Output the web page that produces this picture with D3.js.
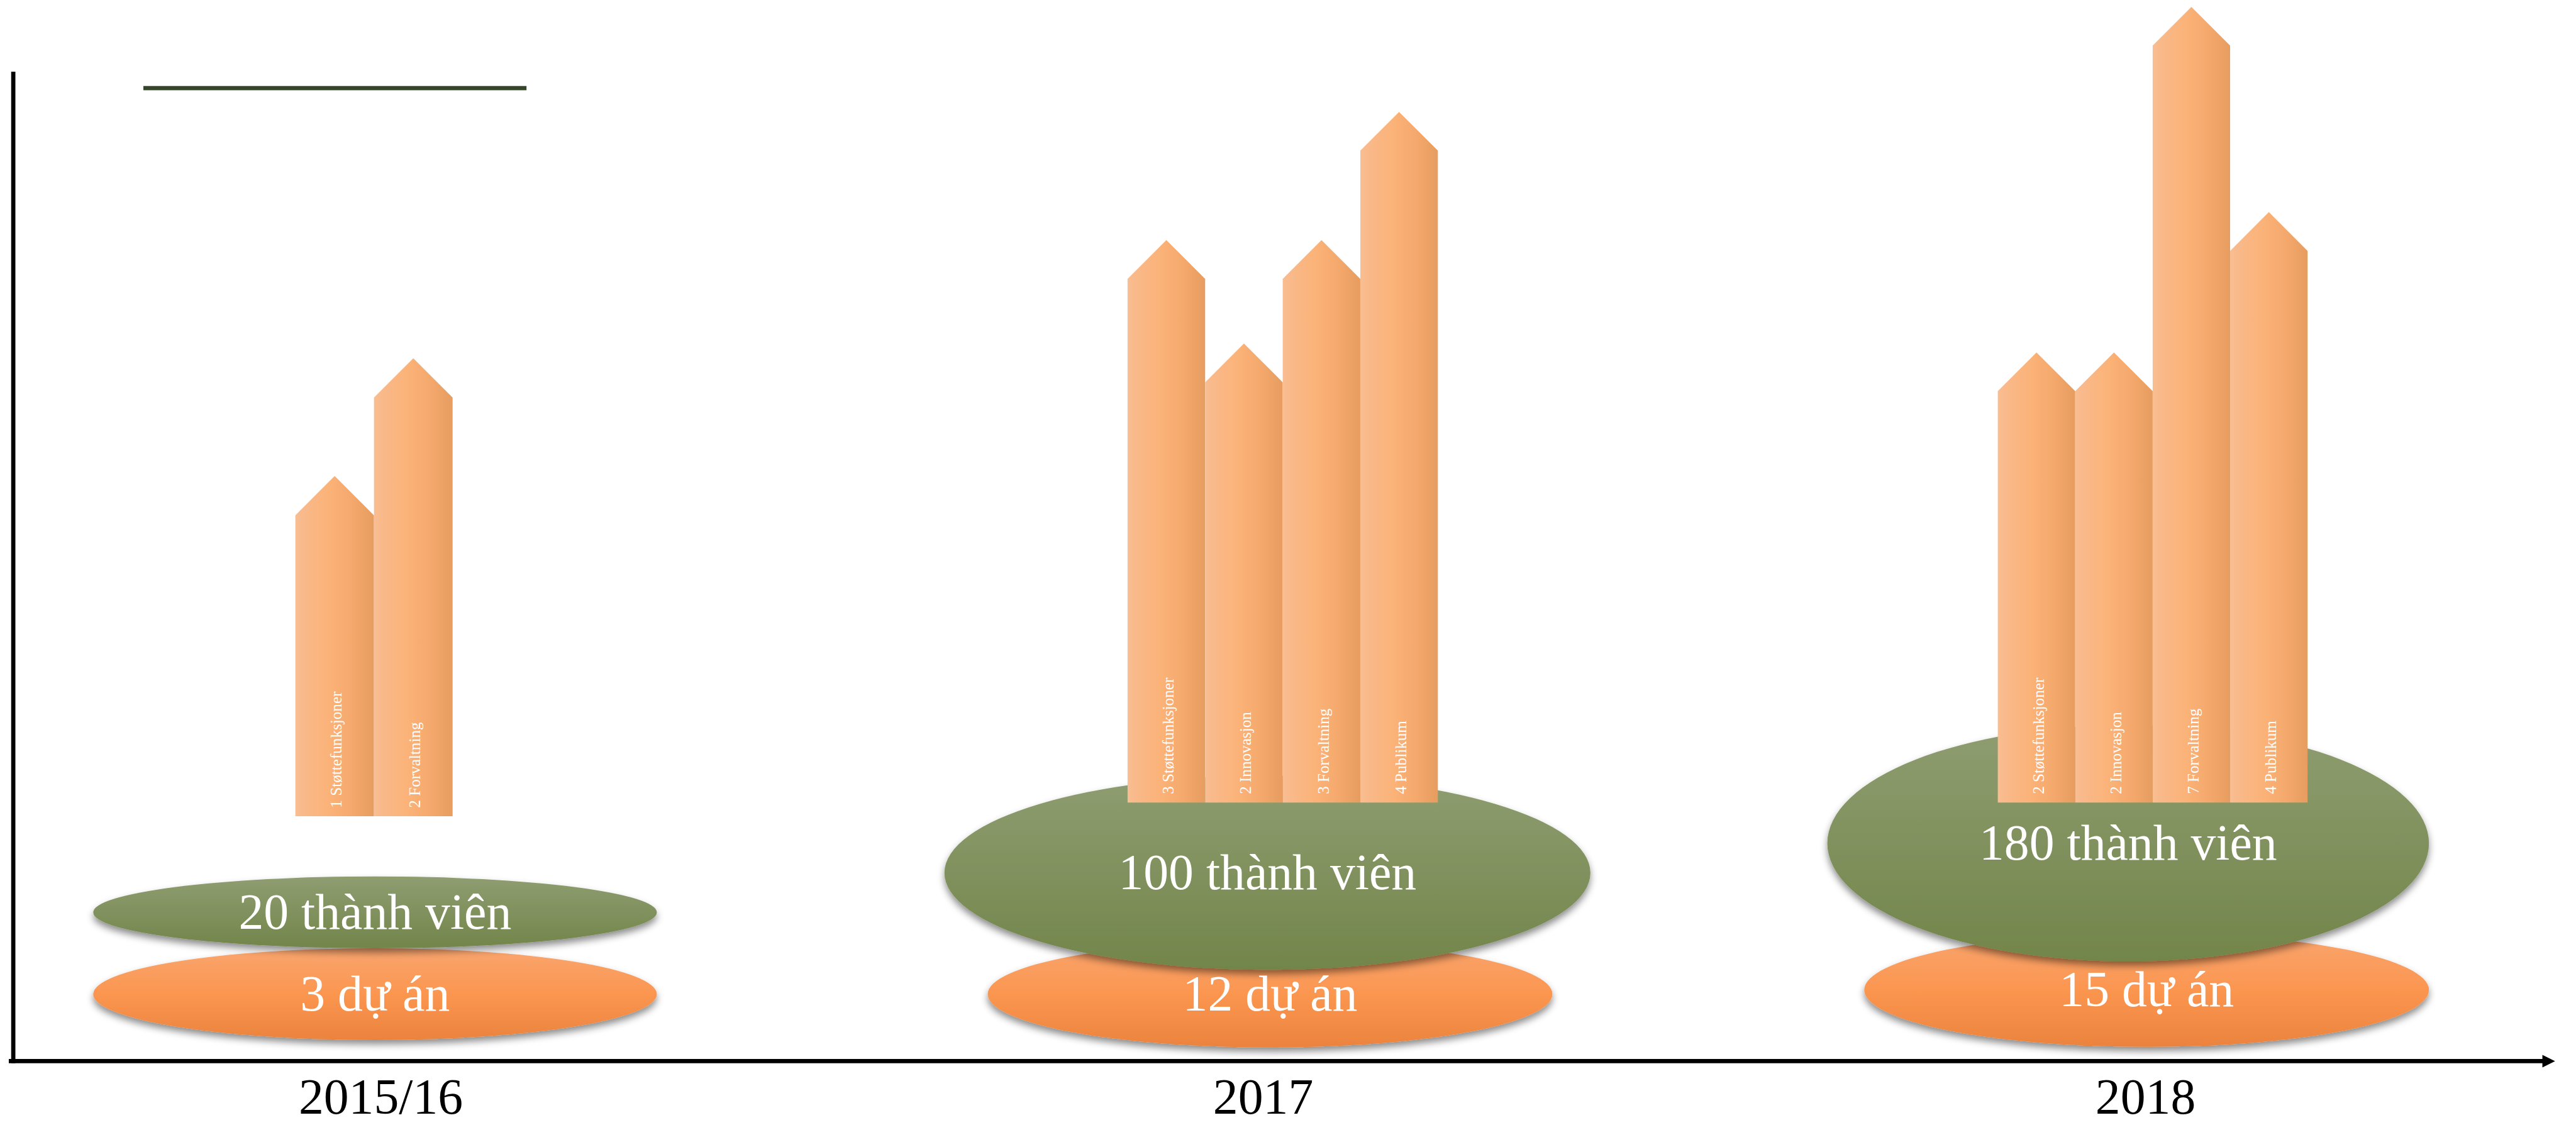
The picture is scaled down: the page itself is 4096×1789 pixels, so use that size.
<!DOCTYPE html>
<html>
<head>
<meta charset="utf-8">
<script src="https://cdn.jsdelivr.net/npm/d3@7"></script>
<style>
  html, body { margin: 0; padding: 0; background: #fff; }
  svg { display: block; }
</style>
</head>
<body>
<script>
var years = ['2015/16', '2017', '2018'];
var members = [20, 100, 180];
var projects = [3, 12, 15];
var barNames = [
  ['Støttefunksjoner', 'Forvaltning'],
  ['Støttefunksjoner', 'Innovasjon', 'Forvaltning', 'Publikum'],
  ['Støttefunksjoner', 'Innovasjon', 'Forvaltning', 'Publikum']
];
var barCounts = [[1, 2], [3, 2, 3, 4], [2, 2, 7, 4]];
// arrow heights as drawn in the picture (tip above the base)
var barHeights = [[645, 868], [1066, 870, 1066, 1309], [853, 853, 1508, 1119]];

// layout of each year group, in the reference's 4880 x 2132 space
var layout = [
  {bars: [559, 857], base: 1547, green: [710, 1729, 534, 68], orange: [710, 1884, 534, 87]},
  {bars: [2136, 2724], base: 1521, green: [2401, 1654, 612, 184], orange: [2406, 1884, 535, 101]},
  {bars: [3785, 4372], base: 1521, green: [4032, 1598, 570, 224], orange: [4067, 1876, 535, 108]}
];

var W = 4880, H = 2132;
var font = '"Liberation Serif", "Times New Roman", serif';

var svg = d3.select('body').append('svg')
  .attr('width', 4096)
  .attr('height', 1789)
  .attr('viewBox', '0 0 ' + W + ' ' + H);

var defs = svg.append('defs');

var bg = defs.append('linearGradient').attr('id', 'barGrad')
  .attr('x1', 0).attr('x2', 1).attr('y1', 0).attr('y2', 0);
[[0, '#F8BE92'], [0.1, '#F9B98A'], [0.45, '#FBB277'], [0.75, '#F3A76B'], [1, '#E79D5F']]
  .forEach(function(s) { bg.append('stop').attr('offset', s[0]).attr('stop-color', s[1]); });

var gg = defs.append('linearGradient').attr('id', 'greenGrad')
  .attr('x1', 0).attr('x2', 0).attr('y1', 0).attr('y2', 1);
gg.append('stop').attr('offset', 0).attr('stop-color', '#8F9D71');
gg.append('stop').attr('offset', 1).attr('stop-color', '#72854A');

var og = defs.append('linearGradient').attr('id', 'orangeGrad')
  .attr('x1', 0).attr('x2', 0).attr('y1', 0).attr('y2', 1);
og.append('stop').attr('offset', 0).attr('stop-color', '#F9A56F');
og.append('stop').attr('offset', 0.5).attr('stop-color', '#FB9650');
og.append('stop').attr('offset', 1).attr('stop-color', '#EB833D');

var shadow = defs.append('filter').attr('id', 'shadow')
  .attr('x', '-10%').attr('y', '-20%').attr('width', '120%').attr('height', '150%');
shadow.append('feDropShadow')
  .attr('dx', 0).attr('dy', 8).attr('stdDeviation', 7)
  .attr('flood-color', '#000').attr('flood-opacity', 0.45);

var x = d3.scalePoint().domain(years).range([721, 4065]);
var y = d3.scaleLinear().domain([0, 1600]).range([0, 1600]);

// axes
svg.append('line')
  .attr('x1', 24.5).attr('x2', 24.5).attr('y1', 136).attr('y2', 2015)
  .attr('stroke', '#000').attr('stroke-width', 8);
svg.append('line')
  .attr('x1', 16).attr('x2', 4820).attr('y1', 2011).attr('y2', 2011)
  .attr('stroke', '#000').attr('stroke-width', 8);
svg.append('path')
  .attr('d', 'M4817,1999 L4841,2011 L4817,2023 Z')
  .attr('fill', '#000');

// green line top-left
svg.append('line')
  .attr('x1', 271).attr('x2', 997).attr('y1', 167).attr('y2', 167)
  .attr('stroke', '#36462A').attr('stroke-width', 8);

years.forEach(function(yr, i) {
  var L = layout[i];
  var g = svg.append('g');

  // projects ellipse
  g.append('ellipse')
    .attr('cx', L.orange[0]).attr('cy', L.orange[1])
    .attr('rx', L.orange[2]).attr('ry', L.orange[3])
    .attr('fill', 'url(#orangeGrad)')
    .attr('filter', 'url(#shadow)');

  // members ellipse
  g.append('ellipse')
    .attr('cx', L.green[0]).attr('cy', L.green[1])
    .attr('rx', L.green[2]).attr('ry', L.green[3])
    .attr('fill', 'url(#greenGrad)')
    .attr('filter', 'url(#shadow)');

  g.append('text')
    .attr('x', L.orange[0]).attr('y', L.orange[1])
    .attr('dy', '0.33em')
    .attr('text-anchor', 'middle')
    .style('font-family', font).style('font-size', '95px')
    .attr('fill', '#fff')
    .text(projects[i] + ' dự án');

  g.append('text')
    .attr('x', L.green[0]).attr('y', L.green[1])
    .attr('dy', '0.33em')
    .attr('text-anchor', 'middle')
    .style('font-family', font).style('font-size', '95px')
    .attr('fill', '#fff')
    .text(members[i] + ' thành viên');

  // arrows
  var band = d3.scaleBand()
    .domain(d3.range(barNames[i].length))
    .range(L.bars)
    .padding(0);
  var hw = band.bandwidth() / 2;

  var bars = g.selectAll('.bar')
    .data(barNames[i].map(function(n, j) {
      return {name: n, count: barCounts[i][j], h: barHeights[i][j], j: j};
    }))
    .enter().append('g');

  bars.append('path')
    .attr('d', function(d) {
      var x0 = band(d.j), x1 = x0 + band.bandwidth(), xc = x0 + hw;
      var tip = L.base - y(d.h);
      return 'M' + x0 + ',' + L.base + 'L' + x0 + ',' + (tip + hw) +
        'L' + xc + ',' + tip + 'L' + x1 + ',' + (tip + hw) +
        'L' + x1 + ',' + L.base + 'Z';
    })
    .attr('fill', 'url(#barGrad)');

  bars.append('text')
    .attr('transform', function(d) {
      return 'translate(' + (band(d.j) + hw) + ',' + (L.base - 16) + ') rotate(-90)';
    })
    .attr('dy', '0.45em')
    .style('font-family', font).style('font-size', '30px')
    .attr('fill', '#fff')
    .text(function(d) { return d.count + ' ' + d.name; });

  // year label
  svg.append('text')
    .attr('x', x(yr)).attr('y', 2110)
    .attr('text-anchor', 'middle')
    .style('font-family', font).style('font-size', '95px')
    .attr('fill', '#000')
    .text(yr);
});
</script>
</body>
</html>
